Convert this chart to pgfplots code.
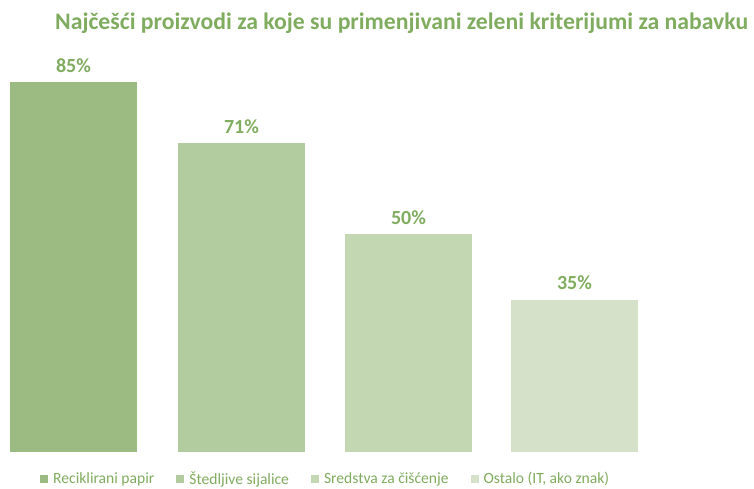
\documentclass[border=0pt]{standalone}
\usepackage{pgfplots}
\pgfplotsset{compat=1.18}
\usepackage{fontspec}
\setmainfont{Carlito}
\definecolor{tgreen}{RGB}{128,172,95}
\definecolor{cA}{RGB}{155,187,130}
\definecolor{cB}{RGB}{178,204,160}
\definecolor{cC}{RGB}{195,215,178}
\definecolor{cD}{RGB}{213,226,201}
\begin{document}
\begin{tikzpicture}
\useasboundingbox (0pt,-37pt) rectangle (754pt,452pt);
\begin{axis}[
  at={(0pt,0pt)}, anchor=origin,
  scale only axis, width=754pt, height=435.3pt,
  xmin=0, xmax=754, ymin=0, ymax=100,
  hide axis, clip=false,
  /pgf/number format/assume math mode=true,
  ybar, bar width=127pt, bar shift=0pt,
  nodes near coords={\pgfmathprintnumber{\pgfplotspointmeta}\%},
  every node near coord/.append style={font=\bfseries\fontsize{20}{22}\selectfont, text=tgreen, yshift=6pt},
  legend columns=4,
  legend style={draw=none, at={(40pt,-27pt)}, anchor=west, font=\fontsize{15.6}{17}\selectfont, text=tgreen,
    /tikz/every even column/.append style={column sep=20pt}, inner sep=0pt,
    nodes={inner sep=2pt}},
  legend image code/.code={\fill[#1,draw=none] (0pt,-4pt) rectangle (8pt,4pt);},
  legend style={/tikz/every odd column/.append style={column sep=3pt}},
]
\addplot[fill=cA, draw=none] coordinates {(73.5,85)};
\addlegendentry{Reciklirani papir}
\addplot[fill=cB, draw=none] coordinates {(241.5,71)};
\addlegendentry{Štedljive sijalice}
\addplot[fill=cC, draw=none] coordinates {(408.5,50)};
\addlegendentry{Sredstva za čišćenje}
\addplot[fill=cD, draw=none] coordinates {(574.5,35)};
\addlegendentry{Ostalo (IT, ako znak)}
\end{axis}
\node[font=\bfseries\fontsize{23.7}{26}\selectfont, text=tgreen, anchor=base west, inner sep=0pt] at (55pt,422pt) {Najčešći proizvodi za koje su primenjivani zeleni kriterijumi za nabavku};
\end{tikzpicture}
\end{document}
